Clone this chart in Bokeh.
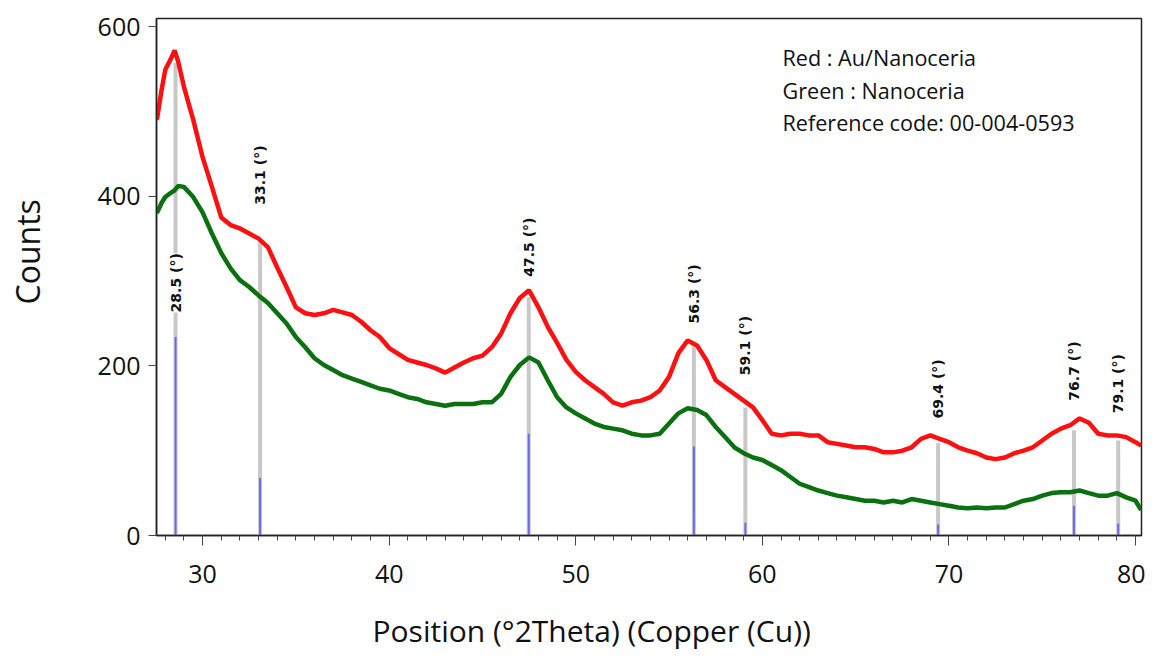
from math import pi
from bokeh.plotting import figure
from bokeh.models import Range1d, SingleIntervalTicker, FixedTicker, ColumnDataSource, Title
from bokeh.core.properties import value
from bokeh.embed import file_html
from bokeh.resources import INLINE

# ---- data ----
two_theta = [27.55, 27.8, 28.0, 28.3, 28.5, 28.7, 29.0, 29.5, 30.0, 30.5, 31.0, 31.5, 32.0, 32.5,
             33.0, 33.5, 34.0, 34.5, 35.0, 35.5, 36.0, 36.5, 37.0, 37.5, 38.0, 38.5, 39.0, 39.5,
             40.0, 40.5, 41.0, 41.5, 42.0, 42.5, 43.0, 43.5, 44.0, 44.5, 45.0, 45.5, 46.0, 46.5,
             47.0, 47.5, 48.0, 48.5, 49.0, 49.5, 50.0, 50.5, 51.0, 51.5, 52.0, 52.5, 53.0, 53.5,
             54.0, 54.5, 55.0, 55.5, 56.0, 56.5, 57.0, 57.5, 58.0, 58.5, 59.0, 59.5, 60.0, 60.5,
             61.0, 61.5, 62.0, 62.5, 63.0, 63.5, 64.0, 64.5, 65.0, 65.5, 66.0, 66.5, 67.0, 67.5,
             68.0, 68.5, 69.0, 69.5, 70.0, 70.5, 71.0, 71.5, 72.0, 72.5, 73.0, 73.5, 74.0, 74.5,
             75.0, 75.5, 76.0, 76.5, 77.0, 77.5, 78.0, 78.5, 79.0, 79.5, 80.0, 80.3]

red_au_nanoceria = [490, 525, 549, 562, 572, 558, 529, 490, 446, 411, 375, 366, 362, 356,
                    350, 340, 316, 293, 269, 262, 260, 262, 266, 263, 260, 252, 242, 234,
                    221, 214, 207, 204, 201, 197, 192, 198, 204, 209, 212, 222, 238, 262,
                    280, 289, 269, 246, 227, 207, 193, 183, 175, 167, 157, 153, 157, 159,
                    163, 171, 187, 215, 230, 224, 207, 183, 175, 167, 159, 151, 136, 120,
                    118, 120, 120, 118, 118, 110, 108, 106, 104, 104, 102, 98, 98, 100,
                    104, 114, 118, 114, 110, 104, 100, 97, 92, 90, 92, 97, 100, 104,
                    112, 120, 126, 130, 138, 133, 120, 118, 118, 116, 110, 106]

green_nanoceria = [380, 392, 399, 404, 407, 412, 411, 399, 381, 356, 333, 315, 301, 293,
                   283, 274, 262, 250, 234, 222, 209, 201, 195, 189, 185, 181, 177, 173,
                   171, 167, 163, 161, 157, 155, 153, 155, 155, 155, 157, 157, 167, 187,
                   201, 210, 204, 183, 163, 151, 144, 138, 132, 128, 126, 124, 120, 118,
                   118, 120, 132, 144, 150, 148, 142, 128, 116, 104, 97, 92, 89, 83,
                   77, 69, 61, 57, 53, 50, 47, 45, 43, 41, 41, 39, 41, 39,
                   43, 41, 39, 37, 35, 33, 32, 33, 32, 33, 33, 37, 41, 43,
                   47, 50, 51, 51, 53, 50, 47, 47, 50, 45, 41, 30]

# reference pattern 00-004-0593
peak_pos = [28.55, 33.08, 47.48, 56.33, 59.09, 69.42, 76.70, 79.07]
peak_labels = ["28.5 (°)", "33.1 (°)", "47.5 (°)", "56.3 (°)", "59.1 (°)", "69.4 (°)", "76.7 (°)", "79.1 (°)"]
ref_intensity = [234, 68, 120, 105, 15, 13, 35, 14]
marker_top = [557, 346, 281, 227, 151, 109, 124, 112]
label_base = [263, 390, 305, 250, 189, 138, 159, 144]

legend_lines = ["Red : Au/Nanoceria", "Green : Nanoceria", "Reference code: 00-004-0593"]
x_title = "Position (°2Theta) (Copper (Cu))"
y_title = "Counts"

# ---- figure ----
p = figure(width=1145, height=650, output_backend="svg", toolbar_location=None,
           x_range=Range1d(27.53, 80.32), y_range=Range1d(0, 609.5),
           min_border_left=156, min_border_right=4, min_border_top=18, min_border_bottom=115)
p.title.visible = False
p.xgrid.visible = False
p.ygrid.visible = False
p.outline_line_color = "#222222"
p.outline_line_width = 1.5
p.background_fill_color = "white"
p.border_fill_color = "white"

ax = p.xaxis[0]
ax.ticker = SingleIntervalTicker(interval=10, num_minor_ticks=10)
ay = p.yaxis[0]
ay.ticker = FixedTicker(ticks=[0, 200, 400, 600])

for a in (ax, ay):
    a.axis_line_color = "#222222"
    a.axis_line_width = 1.5
    a.major_tick_line_color = "#444444"
    a.minor_tick_line_color = "#444444"
    a.major_tick_in = 0
    a.minor_tick_in = 0
    a.major_label_text_font = "Open Sans"
    a.major_label_text_font_size = "25px"
    a.major_label_text_color = "#111111"

ax.major_tick_out = 10
ax.minor_tick_out = 5
ax.major_label_standoff = 19
ay.major_tick_out = 8
ay.minor_tick_line_color = None
ay.major_label_standoff = 8

# axis titles: an empty spacer panel, then the title itself
p.add_layout(Title(text=" ", text_font_size="1px", standoff=19), "below")
p.add_layout(Title(text=x_title, align="left", offset=216, standoff=0,
                   text_font="Open Sans", text_font_size="30px", text_font_style="normal",
                   text_color="#111111"), "below")
p.add_layout(Title(text=" ", text_font_size="1px", standoff=43), "left")
p.add_layout(Title(text=y_title, align="left", offset=231, standoff=0,
                   text_font="Open Sans", text_font_size="32px", text_font_style="normal",
                   text_color="#111111"), "left")

base = [0] * len(peak_pos)
ref = ColumnDataSource(dict(x=peak_pos, y0=base, grey=marker_top, blue=ref_intensity,
                            lab=peak_labels, ly=label_base))
p.segment(x0="x", y0="y0", x1="x", y1="grey", source=ref, line_color="#c8c8c8", line_width=4)
p.segment(x0="x", y0="y0", x1="x", y1="blue", source=ref, line_color="#6b6bf0", line_width=2)

p.line(two_theta, green_nanoceria, line_color="#0a7010", line_width=4.5)
p.line(two_theta, red_au_nanoceria, line_color="#ff1010", line_width=4.5)

p.text(x="x", y="ly", text="lab", source=ref, angle=pi / 2, text_align="left",
       text_baseline="middle", text_font=value("DejaVu Sans"), text_font_style="bold",
       text_font_size="14px", text_color="#111111", background_fill_color="white")

p.text(x=[61.08] * 3, y=[564, 525, 487], text=legend_lines, text_align="left",
       text_baseline="middle", text_font=value("Open Sans"), text_font_size="21.6px",
       text_color="#111111")

open("out.html", "w").write(file_html(p, INLINE))
